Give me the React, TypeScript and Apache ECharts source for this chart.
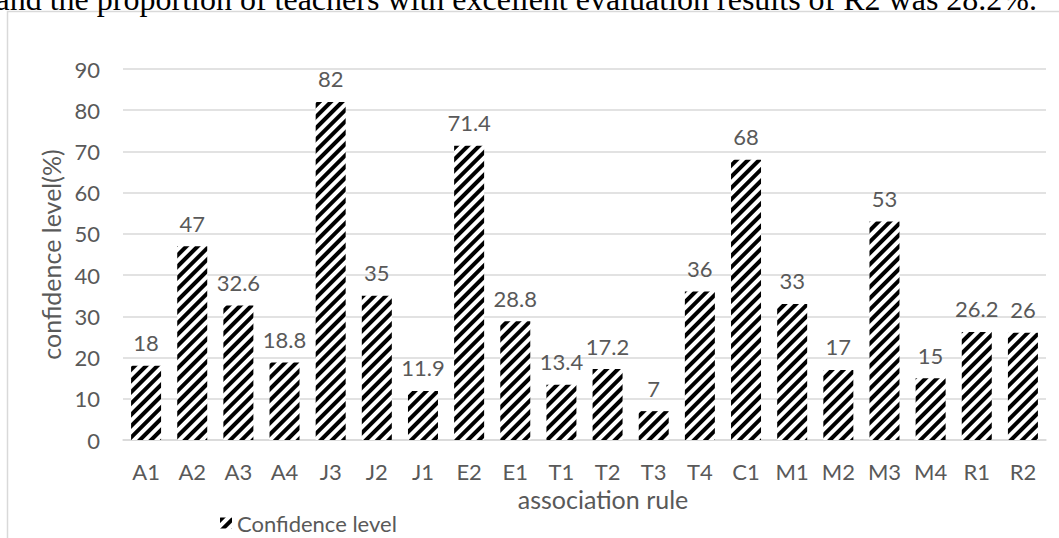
import React, { useEffect, useRef } from "react";
import * as echarts from "echarts";

const categories = ["A1", "A2", "A3", "A4", "J3", "J2", "J1", "E2", "E1", "T1", "T2", "T3", "T4", "C1", "M1", "M2", "M3", "M4", "R1", "R2"];
const confidence = [18, 47, 32.6, 18.8, 82, 35, 11.9, 71.4, 28.8, 13.4, 17.2, 7, 36, 68, 33, 17, 53, 15, 26.2, 26];
const seriesName = "Confidence level";
const headerText = "and the proportion of teachers with excellent evaluation results of R2 was 28.2%.";

const FONT = "Lato, 'Liberation Sans', sans-serif";
const TEXT = "#595959";
const GRID = "#d9d9d9";
const FS = 22;
const NAME_FS = 25;

export default function App() {
  const ref = useRef<HTMLDivElement>(null);
  useEffect(() => {
    if (!ref.current) return;
    const chart = echarts.init(ref.current, null, { renderer: "svg" });
    const decal = {
      symbol: "rect",
      symbolSize: 1,
      color: "#000",
      dashArrayX: [1, 0],
      dashArrayY: [3.5, 3.5],
      rotation: -Math.PI / 4,
    };
    chart.setOption({
      animation: false,
      backgroundColor: "#fff",
      textStyle: { fontFamily: FONT },
      grid: { left: 123, right: 13, top: 69, bottom: 98, containLabel: false },
      graphic: [
        {
          type: "rect",
          shape: { x: 7.5, y: 11.5, width: 1100, height: 600 },
          style: { fill: "none", stroke: GRID, lineWidth: 1.5 },
          silent: true,
        },
        {
          type: "text",
          style: {
            text: headerText,
            x: 1037,
            y: 15,
            align: "right",
            verticalAlign: "bottom",
            font: "32px 'Liberation Serif', 'Times New Roman', serif",
            fill: "#000",
          },
          silent: true,
        },
      ],
      legend: {
        data: [seriesName],
        left: 215,
        top: 507,
        itemWidth: 12,
        itemHeight: 11,
        icon: "rect",
        textStyle: { color: TEXT, fontSize: FS, fontFamily: FONT },
      },
      xAxis: {
        type: "category",
        data: categories,
        name: "association rule",
        nameLocation: "middle",
        nameGap: 41,
        nameTextStyle: { color: TEXT, fontSize: NAME_FS, fontFamily: FONT, padding: [0, 0, 0, 37] },
        axisLine: { lineStyle: { color: GRID, width: 1.5 } },
        axisTick: { show: false },
        axisLabel: { color: TEXT, fontSize: FS, fontFamily: FONT, margin: 20, interval: 0 },
      },
      yAxis: {
        type: "value",
        min: 0,
        max: 90,
        interval: 10,
        name: "confidence level(%)",
        nameLocation: "middle",
        nameGap: 56,
        nameTextStyle: { color: TEXT, fontSize: NAME_FS, fontFamily: FONT },
        axisLine: { show: false },
        axisTick: { show: false },
        axisLabel: { color: TEXT, fontSize: FS, fontFamily: FONT, margin: 23 },
        splitLine: { lineStyle: { color: GRID, width: 1.5 } },
      },
      series: [
        {
          name: seriesName,
          type: "bar",
          data: confidence,
          barWidth: 30,
          itemStyle: { color: "#fff", decal },
          label: {
            show: true,
            position: "top",
            distance: 12,
            color: TEXT,
            fontSize: FS,
            fontFamily: FONT,
          },
        },
      ],
    });
    return () => chart.dispose();
  }, []);
  return (
    <div
      ref={ref}
      style={{ position: "fixed", left: 0, top: 0, width: 1059, height: 538 }}
    />
  );
}
